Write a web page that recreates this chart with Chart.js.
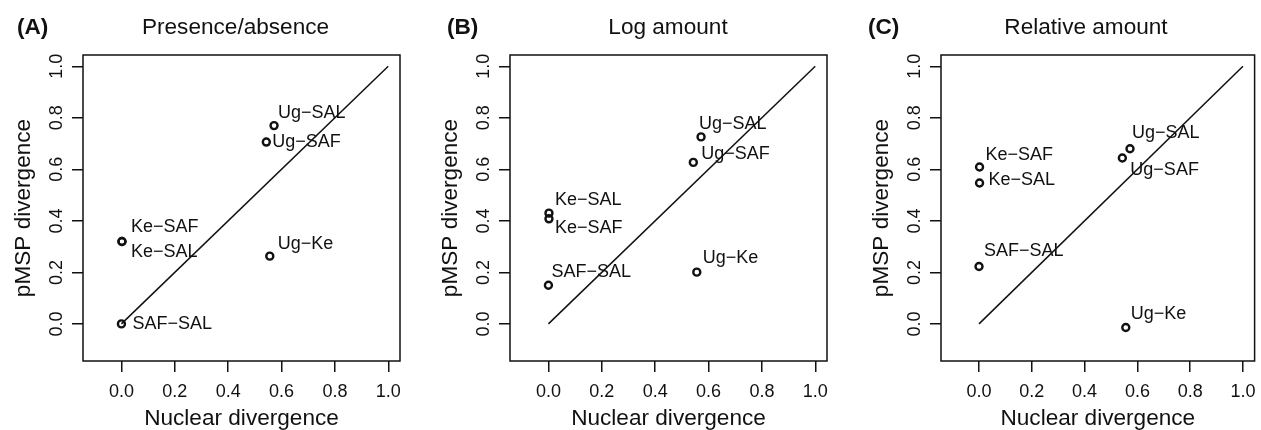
<!DOCTYPE html>
<html>
<head>
<meta charset="utf-8">
<script src="https://cdn.jsdelivr.net/npm/chart.js@4/dist/chart.umd.min.js"></script>
<style>
  body { margin: 0; background: #fff; }
  #wrap { position: relative; width: 1261px; height: 430px; overflow: hidden; }
  canvas { position: absolute; top: 0; }
</style>
</head>
<body>
<div id="wrap">
  <canvas id="panelA" width="420" height="430" style="left:0px"></canvas>
  <canvas id="panelB" width="420" height="430" style="left:420px"></canvas>
  <canvas id="panelC" width="421" height="430" style="left:840px"></canvas>
</div>
<script>
// pairs of populations, same order in every panel
const pairLabels = ['Ug−SAL', 'Ug−SAF', 'Ug−Ke', 'Ke−SAF', 'Ke−SAL', 'SAF−SAL'];
// x = nuclear divergence (shared by all three panels)
const nuclearDiv = [0.572, 0.543, 0.556, 0.002, 0.002, 0.0];
// y = pMSP divergence, one array per panel
const pmspPresence = [0.770, 0.706, 0.263, 0.320, 0.320, 0.0];
const pmspLogAmount = [0.726, 0.627, 0.201, 0.408, 0.430, 0.150];
const pmspRelative = [0.680, 0.644, -0.014, 0.609, 0.547, 0.223];
// 1:1 reference line and axis ticks
const identityLine = [0, 1];
const axisTicks = [0, 0.2, 0.4, 0.6, 0.8, 1.0];
const axisMin = -0.144, axisMax = 1.044;

const INK = '#111111';
const FONT = "'Liberation Sans', Arial, sans-serif";

// where each label sits relative to its point (px), per panel
const nudgeA = [[4, -13], [6, 0], [8, -12], [9, -14], [9, 11], [11, 0]];
const nudgeB = [[-2, -13], [8, -8], [6, -14], [6, 9], [6, -13], [3, -13]];
const nudgeC = [[2, -16], [8, 12], [5, -13], [6, -12], [9, -3], [5, -15]];

// draws box round plot, panel letter, main title and point labels
const panelDeco = {
  id: 'panelDeco',
  afterDraw(chart) {
    const ctx = chart.ctx;
    const a = chart.chartArea;
    const o = chart.options.plugins.panelDeco;
    ctx.save();
    ctx.strokeStyle = INK;
    ctx.lineWidth = 1.5;
    ctx.strokeRect(a.left, a.top, a.right - a.left, a.bottom - a.top);

    ctx.fillStyle = INK;
    ctx.textBaseline = 'alphabetic';
    ctx.font = 'bold 22.6px ' + FONT;
    ctx.textAlign = 'left';
    ctx.fillText(o.letter, o.letterX, 33.5);
    ctx.font = '22.6px ' + FONT;
    ctx.textAlign = 'center';
    ctx.fillText(o.title, o.titleX, 33.5);

    const meta = chart.getDatasetMeta(0);
    ctx.font = '18px ' + FONT;
    ctx.textAlign = 'left';
    ctx.textBaseline = 'middle';
    meta.data.forEach((pt, i) => {
      ctx.fillText(pairLabels[i], pt.x + o.nudge[i][0], pt.y + o.nudge[i][1]);
    });
    ctx.restore();
  }
};

function makePanel(id, yValues, letter, title, titleX, letterX, padLeft, padRight, nudge) {
  const pts = nuclearDiv.map((x, i) => ({ x: x, y: yValues[i] }));
  const line = identityLine.map(v => ({ x: v, y: v }));
  const setTicks = s => { s.ticks = axisTicks.map(v => ({ value: v })); };
  new Chart(document.getElementById(id), {
    type: 'scatter',
    data: {
      datasets: [
        { data: pts, pointStyle: 'circle', pointRadius: 3.5, pointBorderWidth: 2.4,
          borderColor: INK, backgroundColor: 'rgba(0,0,0,0)', order: 0 },
        { data: line, showLine: true, pointRadius: 0, borderWidth: 1.5,
          borderColor: INK, order: 1 }
      ]
    },
    options: {
      responsive: false,
      animation: false,
      devicePixelRatio: 1,
      layout: { padding: { left: padLeft, right: padRight, top: 55, bottom: 0 } },
      plugins: {
        legend: { display: false },
        tooltip: { enabled: false },
        panelDeco: { letter, title, titleX, letterX, nudge }
      },
      scales: {
        x: {
          type: 'linear', min: axisMin, max: axisMax,
          afterBuildTicks: setTicks,
          afterFit: s => { s.height = 69; s.paddingLeft = 0; s.paddingRight = 0; },
          border: { display: false },
          grid: { drawOnChartArea: false, drawTicks: true, tickLength: 11, color: INK, lineWidth: 1.5 },
          ticks: { color: INK, font: { family: FONT, size: 18 }, padding: 9, maxRotation: 0,
                   callback: v => v.toFixed(1) },
          title: { display: true, text: 'Nuclear divergence', color: INK,
                   font: { family: FONT, size: 22.6, lineHeight: 1 }, padding: 0 }
        },
        y: {
          type: 'linear', min: axisMin, max: axisMax,
          afterBuildTicks: setTicks,
          afterFit: s => { s.width = 83; s.paddingTop = 0; s.paddingBottom = 0; },
          border: { display: false },
          grid: { drawOnChartArea: false, drawTicks: true, tickLength: 11, color: INK, lineWidth: 1.5 },
          ticks: { color: INK, font: { family: FONT, size: 18 }, padding: 2,
                   minRotation: 90, maxRotation: 90, crossAlign: 'center',
                   callback: v => v.toFixed(1) },
          title: { display: true, text: 'pMSP divergence', color: INK,
                   font: { family: FONT, size: 22.6, lineHeight: 1 }, padding: { top: 12.4, bottom: 0 } }
        }
      }
    },
    plugins: [panelDeco]
  });
}

makePanel('panelA', pmspPresence, '(A)', 'Presence/absence', 235.5, 17, 0, 20, nudgeA);
makePanel('panelB', pmspLogAmount, '(B)', 'Log amount', 248, 27, 7, 13, nudgeB);
makePanel('panelC', pmspRelative, '(C)', 'Relative amount', 246, 28, 18, 4, nudgeC);
</script>
</body>
</html>
